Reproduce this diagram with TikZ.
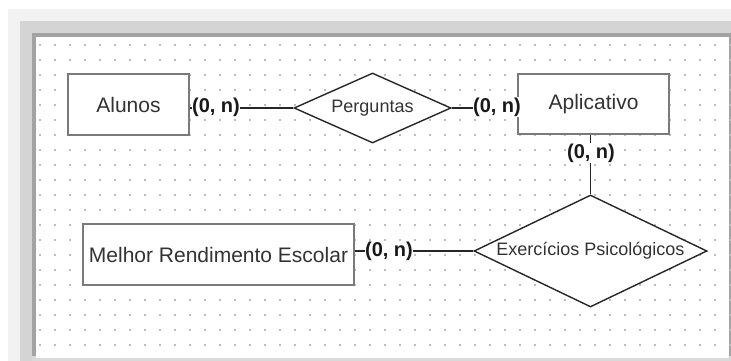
\documentclass[tikz,border=0pt]{standalone}
\usepackage{fontspec}
\setmainfont{Liberation Sans}
\usetikzlibrary{shapes.geometric}
\definecolor{dotc}{HTML}{BDBDBD}
\definecolor{rectc}{HTML}{7A7A7A}
\definecolor{linec}{HTML}{262626}
\definecolor{txtc}{HTML}{333333}
\begin{document}
\begin{tikzpicture}[x=1pt,y=-1pt,
  entity/.style={draw=rectc, line width=2pt, fill=white, rectangle, inner sep=0pt,
    text=txtc, font=\fontsize{21}{25}\selectfont},
  relation/.style={draw=linec, line width=1.4pt, fill=white, diamond, inner sep=0pt,
    text=txtc, font=\fontsize{18}{22}\selectfont},
  conn/.style={draw=linec, line width=1.4pt},
  card/.style={fill=white, inner sep=0.5pt, text=black!90,
    font=\fontsize{20}{24}\selectfont\bfseries}
]
\useasboundingbox (0,0) rectangle (731,361);
% page and frame shadow
\fill[white] (0,0) rectangle (731,361);
\fill[black!5] (8,9) rectangle (731,361);
\fill[black!17] (20,21) rectangle (731,361);
\fill[black!36] (32,33) rectangle (731,356);
\fill[black!15] (32,356) rectangle (731,361);
\fill[white] (36,37) rectangle (729,358);
% dot grid
\foreach \i in {0,...,46}{
  \foreach \j in {0,...,20}{
    \fill[dotc] ({40+15*\i-0.8},{45+15*\j-0.8}) rectangle ++(1.6,1.6);
  }
}
% entities
\node[entity, minimum width=121pt, minimum height=61pt] (al) at (128.5,104.5) {Alunos};
\node[entity, minimum width=151pt, minimum height=60pt] (ap) at (593.5,104) {Aplicativo};
\node[entity, minimum width=271pt, minimum height=61pt] (me) at (218.5,254.5) {Melhor Rendimento Escolar};
% relations
\node[relation, aspect=2.24, minimum width=157pt, minimum height=70pt] (pe) at (372.5,108) {Perguntas};
\node[relation, aspect=2.08, minimum width=233pt, minimum height=112pt] (ex) at (590.5,251) {Exercícios Psicológicos};
% connectors
\draw[conn] (al.east |- pe.west) -- (pe.west);
\draw[conn] (pe.east) -- (ap.west |- pe.east);
\draw[conn] (ex.north |- ap.south) -- (ex.north);
\draw[conn] (me.east |- ex.west) -- (ex.west);
% cardinalities
\node[card] (c1) at (216,107) {(0, n)};
\node[card] (c2) at (497,107) {(0, n)};
\node[card] (c3) at (591,153) {(0, n)};
\node[card] (c4) at (389,251) {(0, n)};
\end{tikzpicture}
\end{document}
